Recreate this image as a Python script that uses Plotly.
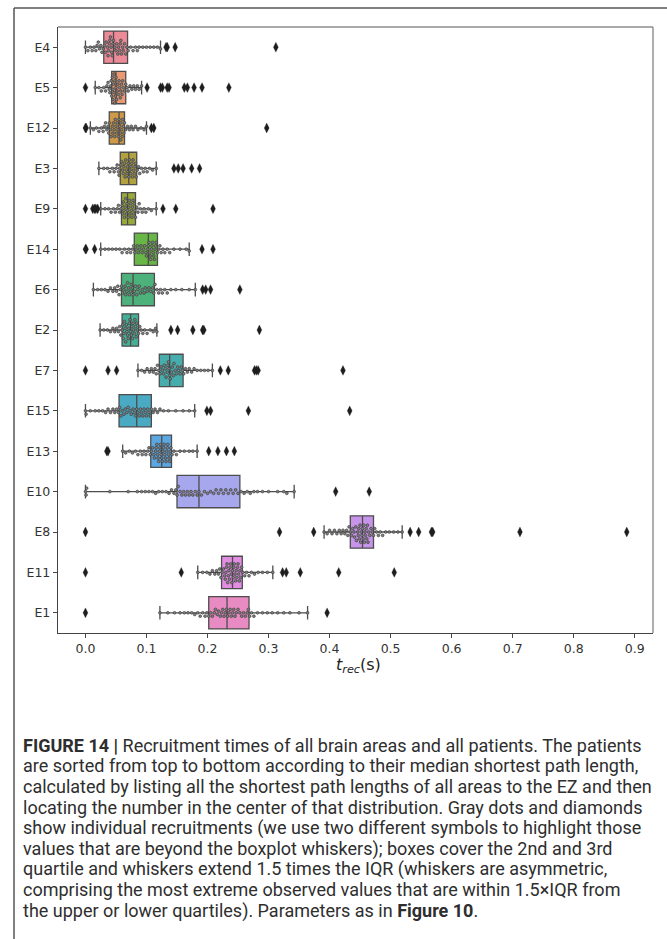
import plotly.graph_objects as go

# ---------------- data ----------------
categories = ["E4", "E5", "E12", "E3", "E9", "E14", "E6", "E2", "E7", "E15",
              "E13", "E10", "E8", "E11", "E1"]

q1 = [0.030, 0.043, 0.039, 0.057, 0.059, 0.080, 0.059, 0.060, 0.121, 0.055,
      0.107, 0.150, 0.434, 0.223, 0.202]
median = [0.046, 0.050, 0.055, 0.071, 0.069, 0.103, 0.078, 0.074, 0.138, 0.084,
          0.125, 0.186, 0.454, 0.241, 0.232]
q3 = [0.069, 0.066, 0.064, 0.084, 0.082, 0.118, 0.113, 0.087, 0.160, 0.108,
      0.141, 0.253, 0.472, 0.257, 0.268]
whisker_lo = [0.000, 0.016, 0.008, 0.022, 0.025, 0.025, 0.013, 0.024, 0.086, 0.000,
              0.061, 0.000, 0.391, 0.184, 0.122]
whisker_hi = [0.123, 0.092, 0.100, 0.116, 0.116, 0.170, 0.180, 0.117, 0.208, 0.179,
              0.183, 0.342, 0.519, 0.307, 0.364]

inliers_E4 = [0.000, 0.004, 0.008, 0.011, 0.014, 0.017, 0.019, 0.021, 0.023, 0.025, 0.027, 0.029,
              0.031, 0.033, 0.034, 0.036, 0.037, 0.038, 0.039, 0.040, 0.041, 0.042, 0.043, 0.044,
              0.045, 0.046, 0.048, 0.050, 0.051, 0.053, 0.054, 0.056, 0.057, 0.058, 0.059, 0.061,
              0.062, 0.064, 0.066, 0.068, 0.070, 0.074, 0.078, 0.082, 0.085, 0.088, 0.094, 0.100,
              0.106, 0.112, 0.118, 0.123]
inliers_E5 = [0.016, 0.022, 0.026, 0.030, 0.033, 0.035, 0.037, 0.039, 0.040, 0.041, 0.042, 0.043,
              0.044, 0.045, 0.045, 0.046, 0.047, 0.047, 0.048, 0.048, 0.049, 0.050, 0.050, 0.051,
              0.052, 0.053, 0.054, 0.055, 0.056, 0.057, 0.058, 0.059, 0.060, 0.061, 0.062, 0.064,
              0.066, 0.068, 0.070, 0.073, 0.076, 0.079, 0.082, 0.085, 0.088, 0.092]
inliers_E12 = [0.008, 0.013, 0.018, 0.022, 0.026, 0.029, 0.031, 0.033, 0.035, 0.037, 0.038, 0.039,
               0.041, 0.042, 0.044, 0.045, 0.046, 0.047, 0.048, 0.049, 0.050, 0.051, 0.052, 0.053,
               0.054, 0.055, 0.056, 0.057, 0.058, 0.058, 0.059, 0.060, 0.061, 0.062, 0.063, 0.064,
               0.066, 0.069, 0.072, 0.075, 0.078, 0.082, 0.086, 0.091, 0.096, 0.100]
inliers_E3 = [0.022, 0.030, 0.036, 0.040, 0.044, 0.047, 0.050, 0.052, 0.054, 0.055, 0.056, 0.058,
              0.059, 0.061, 0.062, 0.063, 0.064, 0.065, 0.066, 0.067, 0.068, 0.069, 0.070, 0.071,
              0.072, 0.073, 0.074, 0.075, 0.076, 0.077, 0.078, 0.079, 0.080, 0.081, 0.082, 0.083,
              0.085, 0.087, 0.089, 0.092, 0.095, 0.098, 0.101, 0.105, 0.110, 0.116]
inliers_E9 = [0.025, 0.032, 0.038, 0.042, 0.046, 0.049, 0.052, 0.054, 0.056, 0.058, 0.060, 0.061,
              0.062, 0.063, 0.064, 0.065, 0.066, 0.067, 0.068, 0.069, 0.070, 0.071, 0.072, 0.073,
              0.074, 0.075, 0.076, 0.077, 0.078, 0.079, 0.080, 0.081, 0.082, 0.084, 0.086, 0.088,
              0.090, 0.093, 0.096, 0.099, 0.103, 0.108, 0.116]
inliers_E14 = [0.025, 0.032, 0.038, 0.044, 0.050, 0.056, 0.060, 0.064, 0.068, 0.071, 0.074, 0.077,
               0.079, 0.081, 0.083, 0.085, 0.087, 0.089, 0.091, 0.093, 0.095, 0.097, 0.099, 0.100,
               0.102, 0.103, 0.104, 0.105, 0.106, 0.107, 0.108, 0.109, 0.110, 0.111, 0.112, 0.113,
               0.114, 0.115, 0.116, 0.118, 0.120, 0.122, 0.124, 0.127, 0.130, 0.134, 0.138, 0.145,
               0.155, 0.165, 0.170]
inliers_E6 = [0.013, 0.020, 0.026, 0.032, 0.037, 0.041, 0.045, 0.048, 0.051, 0.053, 0.055, 0.057,
              0.059, 0.061, 0.063, 0.065, 0.066, 0.068, 0.069, 0.071, 0.072, 0.074, 0.075, 0.077,
              0.078, 0.080, 0.082, 0.084, 0.086, 0.088, 0.090, 0.093, 0.096, 0.098, 0.101, 0.104,
              0.107, 0.110, 0.112, 0.114, 0.117, 0.120, 0.123, 0.126, 0.130, 0.134, 0.140, 0.148,
              0.158, 0.170, 0.180]
inliers_E2 = [0.024, 0.030, 0.036, 0.041, 0.045, 0.048, 0.051, 0.054, 0.056, 0.058, 0.060, 0.061,
              0.062, 0.063, 0.064, 0.065, 0.066, 0.067, 0.068, 0.069, 0.070, 0.071, 0.072, 0.073,
              0.074, 0.075, 0.076, 0.077, 0.078, 0.079, 0.080, 0.081, 0.082, 0.083, 0.084, 0.085,
              0.087, 0.089, 0.091, 0.094, 0.097, 0.101, 0.106, 0.111, 0.115, 0.117]
inliers_E7 = [0.086, 0.092, 0.097, 0.101, 0.105, 0.108, 0.111, 0.114, 0.116, 0.118, 0.120, 0.122,
              0.124, 0.126, 0.128, 0.129, 0.131, 0.132, 0.134, 0.135, 0.136, 0.137, 0.138, 0.139,
              0.141, 0.142, 0.144, 0.145, 0.147, 0.149, 0.151, 0.153, 0.155, 0.157, 0.159, 0.161,
              0.164, 0.167, 0.170, 0.174, 0.178, 0.183, 0.189, 0.195, 0.201, 0.208]
inliers_E15 = [0.000, 0.001, 0.008, 0.016, 0.022, 0.028, 0.033, 0.037, 0.041, 0.045, 0.048, 0.051,
               0.054, 0.056, 0.058, 0.060, 0.063, 0.065, 0.068, 0.070, 0.073, 0.075, 0.078, 0.080,
               0.082, 0.084, 0.086, 0.088, 0.090, 0.092, 0.094, 0.096, 0.098, 0.100, 0.102, 0.104,
               0.106, 0.108, 0.111, 0.114, 0.118, 0.122, 0.128, 0.136, 0.148, 0.160, 0.170, 0.179]
inliers_E13 = [0.061, 0.066, 0.072, 0.077, 0.082, 0.086, 0.090, 0.093, 0.096, 0.099, 0.102, 0.104,
               0.106, 0.108, 0.110, 0.112, 0.113, 0.115, 0.116, 0.117, 0.118, 0.119, 0.120, 0.121,
               0.122, 0.123, 0.124, 0.125, 0.126, 0.127, 0.128, 0.129, 0.130, 0.131, 0.132, 0.133,
               0.134, 0.135, 0.136, 0.137, 0.138, 0.139, 0.140, 0.142, 0.145, 0.149, 0.155, 0.162,
               0.170, 0.176, 0.183]
inliers_E10 = [0.000, 0.001, 0.002, 0.040, 0.070, 0.085, 0.092, 0.098, 0.104, 0.110, 0.115, 0.120,
               0.126, 0.132, 0.137, 0.141, 0.145, 0.148, 0.150, 0.152, 0.155, 0.158, 0.161, 0.164,
               0.167, 0.170, 0.173, 0.176, 0.180, 0.183, 0.186, 0.190, 0.195, 0.200, 0.205, 0.210,
               0.214, 0.218, 0.222, 0.226, 0.230, 0.234, 0.238, 0.242, 0.246, 0.250, 0.255, 0.260,
               0.265, 0.270, 0.276, 0.282, 0.290, 0.300, 0.315, 0.325, 0.330, 0.342]
inliers_E8 = [0.391, 0.396, 0.400, 0.404, 0.408, 0.412, 0.416, 0.419, 0.422, 0.425, 0.428, 0.430,
              0.432, 0.434, 0.436, 0.438, 0.440, 0.441, 0.443, 0.444, 0.446, 0.447, 0.448, 0.449,
              0.450, 0.451, 0.452, 0.453, 0.454, 0.455, 0.456, 0.457, 0.458, 0.459, 0.460, 0.461,
              0.462, 0.463, 0.464, 0.466, 0.468, 0.470, 0.472, 0.474, 0.477, 0.480, 0.483, 0.487,
              0.492, 0.498, 0.505, 0.512, 0.519]
inliers_E11 = [0.184, 0.192, 0.199, 0.204, 0.208, 0.212, 0.215, 0.218, 0.220, 0.222, 0.224, 0.226,
               0.228, 0.229, 0.230, 0.231, 0.232, 0.233, 0.234, 0.235, 0.236, 0.237, 0.238, 0.239,
               0.240, 0.241, 0.242, 0.243, 0.244, 0.245, 0.246, 0.247, 0.248, 0.249, 0.250, 0.251,
               0.252, 0.253, 0.254, 0.256, 0.258, 0.261, 0.264, 0.268, 0.272, 0.277, 0.283, 0.290,
               0.298, 0.307]
inliers_E1 = [0.122, 0.135, 0.146, 0.155, 0.162, 0.168, 0.174, 0.179, 0.184, 0.188, 0.192, 0.196,
              0.199, 0.202, 0.205, 0.208, 0.211, 0.213, 0.216, 0.218, 0.221, 0.223, 0.225, 0.227,
              0.229, 0.231, 0.233, 0.235, 0.237, 0.239, 0.241, 0.243, 0.245, 0.247, 0.250, 0.253,
              0.256, 0.259, 0.262, 0.265, 0.267, 0.269, 0.272, 0.276, 0.282, 0.290, 0.298, 0.306,
              0.315, 0.325, 0.335, 0.350, 0.364]

outliers_E4 = [0.132, 0.134, 0.147, 0.312]
outliers_E5 = [0.000, 0.101, 0.123, 0.126, 0.134, 0.137, 0.162, 0.167, 0.178, 0.191, 0.235]
outliers_E12 = [0.000, 0.001, 0.108, 0.112, 0.297]
outliers_E3 = [0.145, 0.152, 0.160, 0.174, 0.187]
outliers_E9 = [0.000, 0.012, 0.015, 0.017, 0.020, 0.127, 0.148, 0.209]
outliers_E14 = [0.000, 0.001, 0.015, 0.191, 0.209]
outliers_E6 = [0.192, 0.197, 0.205, 0.253]
outliers_E2 = [0.140, 0.151, 0.176, 0.192, 0.194, 0.285]
outliers_E7 = [0.000, 0.037, 0.051, 0.221, 0.234, 0.277, 0.280, 0.283, 0.422]
outliers_E15 = [0.199, 0.205, 0.267, 0.433]
outliers_E13 = [0.035, 0.037, 0.202, 0.217, 0.231, 0.244]
outliers_E10 = [0.410, 0.465]
outliers_E8 = [0.000, 0.318, 0.374, 0.532, 0.546, 0.567, 0.569, 0.712, 0.887]
outliers_E11 = [0.000, 0.157, 0.323, 0.329, 0.352, 0.415, 0.506]
outliers_E1 = [0.000, 0.396]

inliers = [inliers_E4, inliers_E5, inliers_E12, inliers_E3, inliers_E9, inliers_E14, inliers_E6,
           inliers_E2, inliers_E7, inliers_E15, inliers_E13, inliers_E10, inliers_E8, inliers_E11,
           inliers_E1]
outliers = [outliers_E4, outliers_E5, outliers_E12, outliers_E3, outliers_E9, outliers_E14,
            outliers_E6, outliers_E2, outliers_E7, outliers_E15, outliers_E13, outliers_E10,
            outliers_E8, outliers_E11, outliers_E1]

box_colors = ["#ec8a98", "#e99a74", "#cf9a48", "#b2a23f", "#9aa93e", "#68b646", "#4cb17b",
              "#47ae96", "#47adac", "#4aa9c3", "#5ba7e2", "#a7a7ee", "#c794ea", "#e28ce2",
              "#e98bc3"]

caption_lines = [
    "<b>FIGURE 14 |</b> Recruitment times of all brain areas and all patients. The patients",
    "are sorted from top to bottom according to their median shortest path length,",
    "calculated by listing all the shortest path lengths of all areas to the EZ and then",
    "locating the number in the center of that distribution. Gray dots and diamonds",
    "show individual recruitments (we use two different symbols to highlight those",
    "values that are beyond the boxplot whiskers); boxes cover the 2nd and 3rd",
    "quartile and whiskers extend 1.5 times the IQR (whiskers are asymmetric,",
    "comprising the most extreme observed values that are within 1.5\u00d7IQR from",
    "the upper or lower quartiles). Parameters as in <b>Figure 10</b>.",
]

# ---------------- layout geometry ----------------
W, H = 667, 939
PL, PR, PT, PB = 58, 653, 27, 633
XR = [-0.045, 0.93]
PX_PER_X = (PR - PL) / (XR[1] - XR[0])
PX_PER_Y = (PB - PT) / 15.0


def px2paper_x(px):
    return (px - PL) / (PR - PL)


def py2paper_y(py):
    return (PB - py) / (PB - PT)


def swarm_offsets(vals, d=3.4, maxoff=0.4):
    """Beeswarm layout: offsets (category units) so dots do not overlap."""
    order = sorted(vals)
    placed = []
    offs = []
    for v in order:
        xp = v * PX_PER_X
        cands = [0.0]
        for k in range(1, 40):
            cands += [k * d * 0.5, -k * d * 0.5]
        chosen = cands[-1]
        for c in cands:
            ok = True
            for (qx, qy) in placed:
                if abs(xp - qx) < d and (xp - qx) ** 2 + (c - qy) ** 2 < d * d:
                    ok = False
                    break
            if ok:
                chosen = c
                break
        placed.append((xp, chosen))
        off = chosen / PX_PER_Y
        off = max(-maxoff, min(maxoff, off))
        offs.append(off)
    return order, offs


fig = go.Figure()

for i, cat in enumerate(categories):
    fig.add_trace(go.Box(
        orientation="h",
        y=[i],
        q1=[q1[i]], median=[median[i]], q3=[q3[i]],
        lowerfence=[whisker_lo[i]], upperfence=[whisker_hi[i]],
        width=0.8, whiskerwidth=0.42,
        fillcolor=box_colors[i],
        line=dict(color="#4d4d4d", width=1.3),
        boxpoints=False, showlegend=False, hoverinfo="skip",
    ))

for i, cat in enumerate(categories):
    xs, offs = swarm_offsets(inliers[i])
    fig.add_trace(go.Scatter(
        x=xs, y=[i + o for o in offs], mode="markers",
        marker=dict(size=2.8, color="#808080", line=dict(color="#333333", width=0.6)),
        showlegend=False, hoverinfo="skip",
    ))
    fig.add_trace(go.Scatter(
        x=outliers[i], y=[i] * len(outliers[i]), mode="markers",
        marker=dict(size=7, symbol="diamond-tall", color="#1e1e1e",
                    line=dict(color="#1e1e1e", width=0.3)),
        showlegend=False, hoverinfo="skip",
    ))

shapes = []
# outer figure frame (top & left)
shapes.append(dict(type="line", xref="paper", yref="paper",
                   x0=px2paper_x(14), x1=px2paper_x(667), y0=py2paper_y(8), y1=py2paper_y(8),
                   line=dict(color="#555555", width=1.5)))
shapes.append(dict(type="line", xref="paper", yref="paper",
                   x0=px2paper_x(14), x1=px2paper_x(14), y0=py2paper_y(8), y1=py2paper_y(939),
                   line=dict(color="#555555", width=1.5)))
# top and right spines of plot
shapes.append(dict(type="line", xref="paper", yref="paper", x0=0, x1=1, y0=1, y1=1,
                   line=dict(color="#8c8c8c", width=1.4)))
shapes.append(dict(type="line", xref="paper", yref="paper", x0=1, x1=1, y0=0, y1=1,
                   line=dict(color="#8c8c8c", width=1.4)))

annotations = []
annotations.append(dict(
    text="<i>t</i><sub><i>rec</i></sub>(s)", xref="paper", yref="paper",
    x=px2paper_x(358), y=py2paper_y(665), xanchor="center", yanchor="middle",
    showarrow=False, font=dict(family="DejaVu Sans", size=16, color="#222222"),
))
line_y0, line_dy = 745, 20.7
for k, ln in enumerate(caption_lines):
    annotations.append(dict(
        text=ln, xref="paper", yref="paper",
        x=px2paper_x(21), y=py2paper_y(line_y0 + k * line_dy),
        xanchor="left", yanchor="middle", showarrow=False,
        font=dict(family="Roboto", size=18, color="#2e2e2e"),
    ))

fig.update_layout(
    width=W, height=H,
    margin=dict(l=PL, r=W - PR, t=PT, b=H - PB, pad=0),
    paper_bgcolor="white", plot_bgcolor="white",
    showlegend=False,
    shapes=shapes, annotations=annotations,
    xaxis=dict(range=XR, tickmode="array",
               tickvals=[0.0, 0.1, 0.2, 0.3, 0.4, 0.5, 0.6, 0.7, 0.8, 0.9],
               ticktext=["0.0", "0.1", "0.2", "0.3", "0.4", "0.5", "0.6", "0.7", "0.8", "0.9"],
               showgrid=False, zeroline=False, showline=True, linecolor="#444444", linewidth=1.4,
               ticks="outside", ticklen=4, tickwidth=1.1, tickcolor="#444444",
               tickfont=dict(family="DejaVu Sans", size=12.5, color="#333333")),
    yaxis=dict(range=[14.5, -0.5], tickmode="array",
               tickvals=list(range(len(categories))), ticktext=categories,
               showgrid=False, zeroline=False, showline=True, linecolor="#444444", linewidth=1.4,
               ticks="outside", ticklen=4, tickwidth=1.1, tickcolor="#444444",
               tickfont=dict(family="DejaVu Sans", size=12.5, color="#333333")),
)

fig.write_html("out.html",
               config={"displayModeBar": False},
               post_script="document.body.style.margin='0px';"
                           "document.body.style.overflow='hidden';")
